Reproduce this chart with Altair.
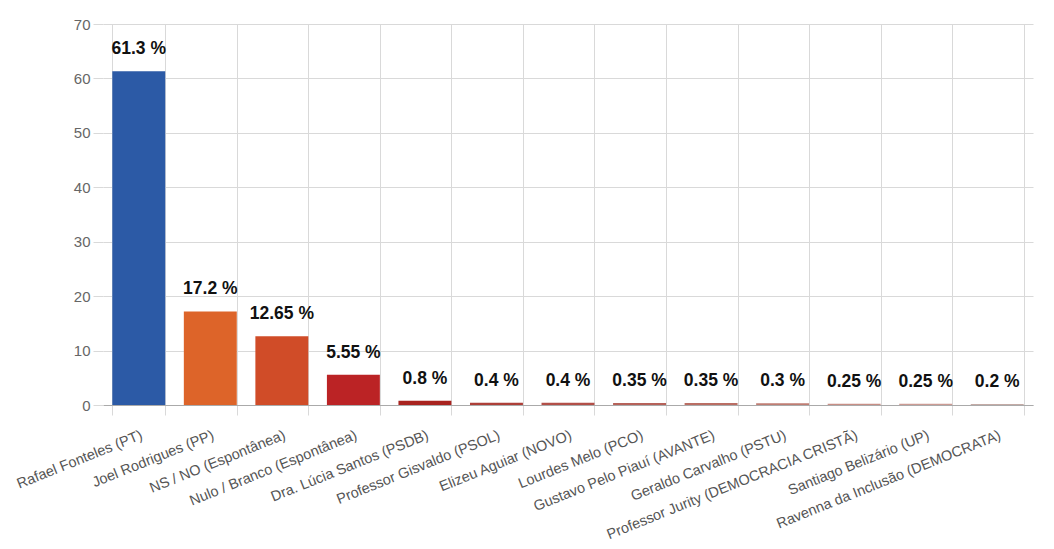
import altair as alt
import pandas as pd

# Candidates and their share (%)
candidates = [
    'Rafael Fonteles (PT)', 'Joel Rodrigues (PP)', 'NS / NO (Espontânea)',
    'Nulo / Branco (Espontânea)', 'Dra. Lúcia Santos (PSDB)', 'Professor Gisvaldo (PSOL)',
    'Elizeu Aguiar (NOVO)', 'Lourdes Melo (PCO)', 'Gustavo Pelo Piauí (AVANTE)',
    'Geraldo Carvalho (PSTU)', 'Professor Jurity (DEMOCRACIA CRISTÃ)',
    'Santiago Belizário (UP)', 'Ravenna da Inclusão (DEMOCRATA)'
]
shares = [61.3, 17.2, 12.65, 5.55, 0.8, 0.4, 0.4, 0.35, 0.35, 0.3, 0.25, 0.25, 0.2]
bar_colors = ['#2c5aa6', '#dd6429', '#d04c28', '#bb2325', '#a8231f', '#ad3f38',
              '#b24f48', '#b6625a', '#ba6e64', '#bf7d73', '#c88f86', '#cc9b94', '#c4aba6']

df = pd.DataFrame({'candidate': candidates, 'share': shares})

base = alt.Chart(df).transform_calculate(
    label="toString(datum.share) + ' %'"
)

x = alt.X('candidate:N', sort=candidates, title=None,
          scale=alt.Scale(paddingInner=0.26, paddingOuter=0.13),
          axis=alt.Axis(labelAngle=-22, labelFontSize=14.5, labelColor='#555555',
                        labelFont='Liberation Sans', tickBand='extent', grid=True,
                        gridColor='#d9d9d9', tickColor='#d9d9d9', tickSize=10,
                        domainColor='#aaaaaa', labelPadding=13, labelLimit=400))

bars = base.mark_bar().encode(
    x=x,
    y=alt.Y('share:Q', title=None,
            scale=alt.Scale(domain=[0, 70]),
            axis=alt.Axis(values=[0, 10, 20, 30, 40, 50, 60, 70], labelFontSize=15,
                          labelColor='#666666', labelFont='Liberation Sans',
                          gridColor='#d9d9d9', tickColor='#d9d9d9', tickSize=10,
                          domain=False, labelPadding=3)),
    color=alt.Color('candidate:N', legend=None,
                    scale=alt.Scale(domain=candidates, range=bar_colors))
)

text = base.mark_text(baseline='bottom', dy=-13, fontSize=17.5, fontWeight='bold',
                      font='Liberation Sans', color='#111111').encode(
    x=alt.X('candidate:N', sort=candidates),
    y='share:Q',
    text='label:N'
)

chart = (bars + text).properties(
    width=930,
    height=381,
    autosize=alt.AutoSizeParams(type='none'),
    padding={'left': 95, 'top': 16, 'right': 8, 'bottom': 144}
).configure_view(
    strokeWidth=0
)

chart.save("out.html", embed_options={"renderer": "svg", "actions": False})
